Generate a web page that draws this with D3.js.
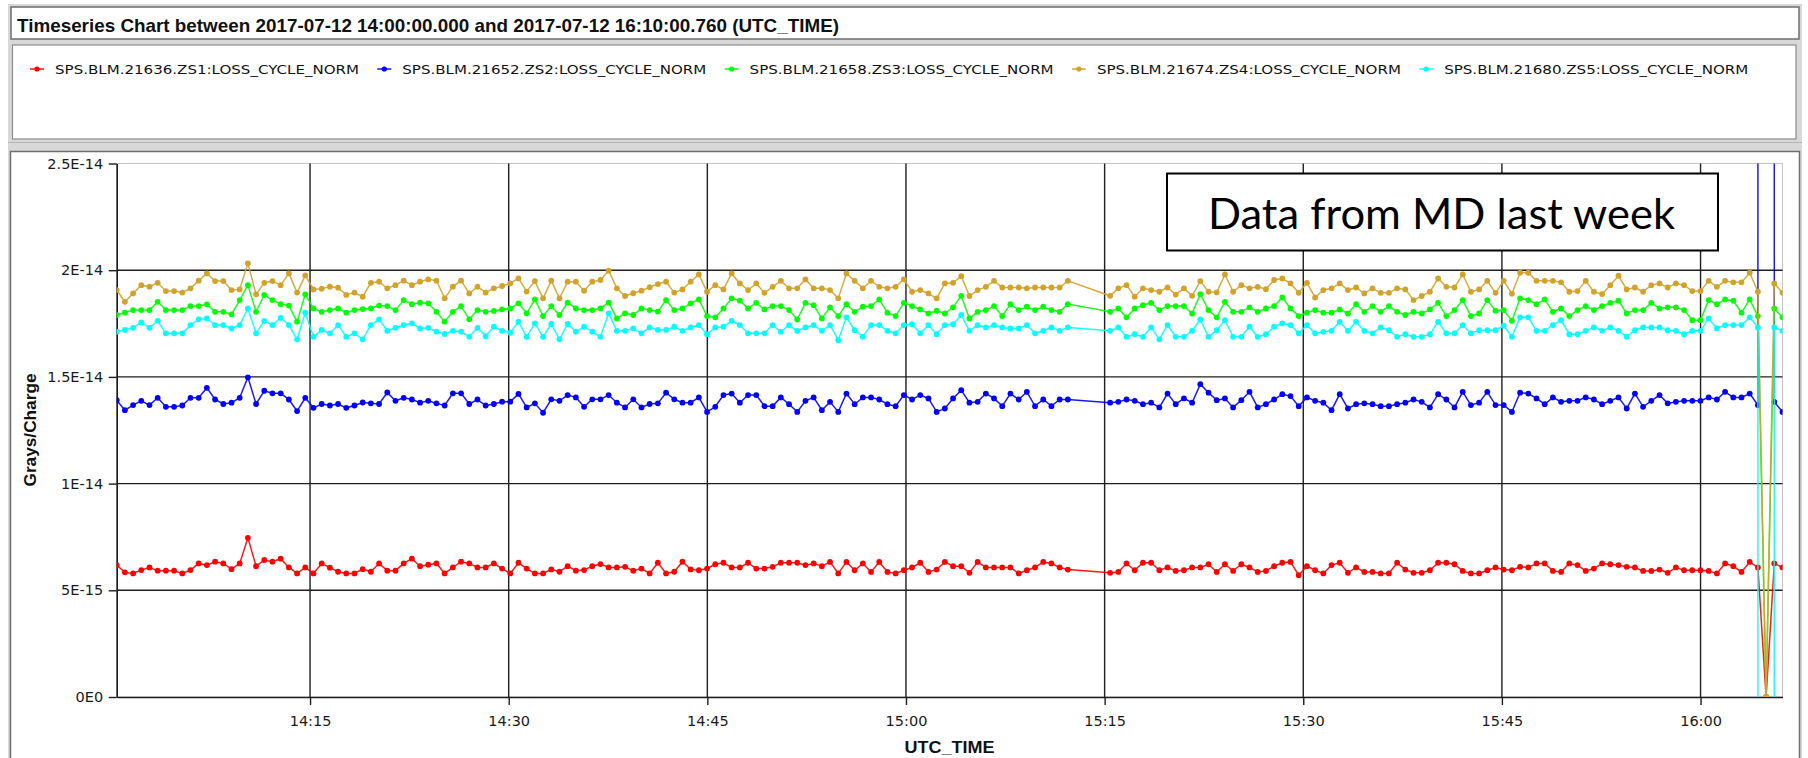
<!DOCTYPE html>
<html><head><meta charset="utf-8">
<script src="https://cdn.jsdelivr.net/npm/d3@7"></script>
<style>body{margin:0;background:#fff;} svg{display:block;}</style>
</head><body>
<svg id="chart" width="1808" height="758"></svg>
<script>
// ---------------- DATA ----------------
const titleText = "Timeseries Chart between 2017-07-12 14:00:00.000 and 2017-07-12 16:10:00.760 (UTC_TIME)";
const seriesNames = [
  "SPS.BLM.21636.ZS1:LOSS_CYCLE_NORM",
  "SPS.BLM.21652.ZS2:LOSS_CYCLE_NORM",
  "SPS.BLM.21658.ZS3:LOSS_CYCLE_NORM",
  "SPS.BLM.21674.ZS4:LOSS_CYCLE_NORM",
  "SPS.BLM.21680.ZS5:LOSS_CYCLE_NORM"
];
const seriesColors = ["#ff0000", "#0000ff", "#00ff00", "#d2a32c", "#00ffff"];
const UNIT = 1e-15; // values below are in units of 1E-15 Grays/Charge
// acquisition segments (regular SPS cycle sampling, with a gap ~15:12-15:15)
const segmentStarts = ["2017-07-12T14:00:24Z", "2017-07-12T15:15:25Z"];
const segmentCounts = [117, 83];
const SAMPLE_PERIOD_S = 37.15;
const yTickValues = [0, 5, 10, 15, 20, 25];
const yTickLabels = ["0E0", "5E-15", "1E-14", "1.5E-14", "2E-14", "2.5E-14"];
const yGridValues = [5, 10, 15, 20];
const xTickLabels = ["14:15", "14:30", "14:45", "15:00", "15:15", "15:30", "15:45", "16:00"];
const xAxisTitle = "UTC_TIME";
const yAxisTitle = "Grays/Charge";
const noteText = "Data from MD last week";

const zs1 = [
  6.18,5.84,5.79,5.95,6.07,5.92,5.92,5.92,5.79,5.95,6.26,6.18,6.34,6.26,5.99,6.26,7.46,6.13,6.42,6.34,6.48,6.07,5.79,6.07,5.79,6.26,6.06,5.87,5.79,5.79,5.99,5.87,6.26,5.92,5.92,6.26,6.48,6.13,6.20,6.26,5.79,6.07,6.34,6.26,6.07,6.07,6.26,
  6.02,5.79,6.29,6.02,5.79,5.79,5.98,5.87,6.13,5.92,5.95,6.13,6.23,6.07,6.07,6.1,5.92,6.02,5.79,6.29,5.79,5.87,6.34,5.98,
  5.94,6.02,6.22,6.29,6.07,6.07,6.29,6.02,6.02,6.1,6.29,6.29,6.29,6.18,6.26,6.13,6.33,5.79,6.33,5.94,6.26,5.86,6.33,5.86,5.79,5.94,6.07,6.29,5.86,5.97,6.33,6.13,6.13,5.82,6.33,6.07,6.07,6.07,6.07,5.79,5.94,6.07,6.33,6.26,6.07,5.97,
  5.82,5.86,6.26,5.94,6.29,6.29,5.94,6.07,5.91,5.94,6.07,6.07,6.22,5.86,6.22,5.91,6.22,6.07,5.86,5.91,6.13,6.29,6.33,5.71,6.13,5.94,5.79,6.18,6.29,5.82,6.07,5.86,5.86,5.79,5.79,6.29,5.97,5.82,5.82,5.94,6.29,6.29,6.22,5.91,5.79,5.79,5.94,6.07,5.97,5.94,6.1,
  6.07,6.26,6.26,5.91,5.86,6.26,6.18,5.91,6.02,6.26,6.22,6.18,6.1,6.07,5.91,5.91,5.97,5.82,6.07,5.94,5.94,5.94,5.91,5.79,6.26,6.13,5.86,6.33,6.07,0,6.26,6.07
];
const zs2 = [
  13.91,13.44,13.68,13.88,13.68,14.02,13.60,13.60,13.66,14.02,14.02,14.49,13.94,13.73,13.79,14.02,14.98,13.73,14.35,14.23,14.23,13.94,13.40,14.02,13.55,13.73,13.66,13.73,13.55,13.66,13.80,13.76,13.73,14.27,13.88,14.02,13.94,13.79,13.88,13.76,13.66,14.23,14.23,13.73,13.94,13.66,13.73,
  13.84,13.84,14.2,13.57,13.76,13.32,13.95,13.88,14.15,14.04,13.6,13.95,13.95,14.15,13.79,13.57,13.95,13.57,13.73,13.76,14.26,13.95,13.79,13.79,
  14.04,13.36,13.6,14.15,14.22,13.79,14.15,14.15,13.63,13.63,14.04,13.72,13.36,13.88,14.04,13.44,13.83,13.36,14.22,13.72,14.04,14.04,13.94,13.72,13.63,14.15,13.94,14.15,13.99,13.36,13.52,13.99,14.38,13.79,13.83,14.22,13.99,13.63,14.22,13.94,14.3,13.63,13.94,13.63,13.94,13.94,
  13.79,13.83,13.94,13.88,13.72,13.79,13.57,14.22,13.72,13.99,13.79,14.66,14.26,13.91,13.99,13.57,13.91,14.3,13.57,13.72,13.94,14.19,14.1,13.63,14.04,13.88,13.79,13.44,14.19,13.52,13.72,13.76,13.72,13.63,13.63,13.72,13.79,13.94,13.83,13.57,14.19,13.94,13.57,14.3,13.68,13.79,14.3,13.68,13.68,13.36,14.26,
  14.22,13.99,13.72,14.04,13.83,13.88,13.88,14.04,13.94,13.72,13.88,14.04,13.52,14.22,13.6,13.88,14.15,13.76,13.83,13.88,13.88,13.88,14.04,13.94,14.3,14.04,14.04,14.22,13.68,5000,13.83,13.36
];
const zs3 = [
  17.90,18.01,18.13,18.13,18.13,18.52,18.13,18.13,18.13,18.32,18.32,18.40,18.05,18.05,17.93,18.60,19.30,18.05,18.84,18.60,18.41,18.34,17.59,18.87,18.21,18.05,18.13,18.21,18.01,18.13,18.18,18.21,18.34,18.32,18.13,18.60,18.41,18.48,18.45,18.05,17.59,18.05,18.32,17.70,18.13,18.05,18.09,
  18.16,18.21,18.45,17.98,18.63,17.85,18.32,17.9,18.48,18.21,18.13,18.13,18.21,18.48,17.74,17.98,17.9,18.21,18.13,18.06,18.6,18.13,18.21,18.45,
  18.63,17.85,17.79,18.21,18.68,18.57,18.21,18.47,18.16,18.32,18.32,18.13,17.69,18.47,18.36,17.74,18.26,17.85,18.41,18.05,18.29,18.32,18.63,18.01,17.85,18.47,18.32,18.16,17.97,18.1,17.97,18.26,18.8,17.74,18.05,18.13,18.32,17.85,18.41,18.13,18.29,18.13,18.29,18.13,18.05,18.41,
  18.05,18.21,17.79,18.21,18.36,18.47,18.13,18.32,18.32,18.32,17.97,18.88,18.13,17.79,18.52,18.05,18.05,18.26,18.05,18.21,18.32,18.72,18.21,17.85,18.01,18.13,18.01,18.01,18.16,17.97,18.41,18.05,18.32,18.05,18.32,18.05,17.9,18.05,17.97,18.16,18.47,17.85,18.13,18.6,17.85,17.97,18.6,18.1,18.13,17.63,18.68,
  18.6,18.41,18.63,18.05,18.21,17.85,18.13,18.32,18.13,18.32,18.47,18.57,17.97,18.13,18.13,18.47,18.21,18.26,18.26,18.13,17.66,17.66,18.6,18.41,18.63,18.57,18.01,18.63,17.85,0,18.21,17.79
];
const zs4 = [
  19.07,18.52,18.91,19.30,19.23,19.41,19.02,19.02,18.95,19.15,19.51,19.85,19.49,19.49,19.07,19.10,20.32,18.87,19.41,19.49,19.30,19.85,18.95,19.76,19.10,19.13,19.23,19.18,18.84,18.95,18.76,19.41,19.46,19.15,19.30,19.51,19.30,19.46,19.57,19.51,18.68,19.23,19.51,18.91,19.23,18.95,19.15,
  19.26,19.38,19.62,19.0,19.49,18.68,19.51,18.68,19.46,19.46,19.04,19.46,19.54,19.98,19.15,18.79,18.92,19.04,19.2,19.35,19.46,18.95,19.1,19.46,
  19.8,18.99,19.3,19.1,19.85,19.38,19.07,19.38,18.94,19.22,19.5,19.15,19.15,19.57,19.15,19.15,19.07,18.68,19.85,19.5,19.15,19.5,19.22,19.15,19.22,19.57,18.99,19.07,18.91,18.68,19.38,19.41,19.72,18.79,19.07,19.22,19.5,19.19,19.19,19.19,19.15,19.19,19.19,19.19,19.19,19.5,
  18.8,19.15,19.3,18.76,19.15,19.07,18.99,19.19,18.86,19.15,18.8,19.49,18.99,18.96,19.8,18.99,19.3,19.15,19.22,19.11,19.54,19.61,19.38,18.94,19.41,18.72,19.07,19.15,19.38,19.07,19.19,18.91,19.15,18.94,18.94,19.15,19.1,18.6,18.79,18.99,19.61,19.22,19.19,19.8,18.99,19.1,19.5,18.94,19.5,18.9,19.88,
  19.88,19.5,19.5,19.5,19.43,18.99,19.02,19.5,18.99,18.88,19.3,19.74,19.1,19.19,18.99,19.3,19.38,19.19,19.38,19.3,19.02,19.02,19.5,19.22,19.5,19.43,19.43,19.88,18.99,0,19.38,18.94
];
const zs5 = [
  17.12,17.20,17.30,17.55,17.30,17.63,17.04,17.04,17.04,17.43,17.70,17.74,17.43,17.43,17.27,17.43,18.21,17.04,17.63,17.43,17.77,17.43,16.76,18.01,16.88,17.20,17.04,17.43,16.88,17.04,16.76,17.43,17.70,17.16,17.30,17.43,17.51,17.27,17.30,17.12,17.01,17.16,17.12,16.88,17.30,16.91,17.35,
  17.16,17.07,17.59,16.88,17.51,16.88,17.48,16.76,17.48,17.12,17.35,17.12,16.88,17.98,17.16,17.16,17.27,17.04,17.32,17.2,17.2,17.35,17.16,17.32,
  17.43,17.0,17.32,17.35,17.63,17.43,17.04,17.04,17.04,17.43,17.11,17.43,17.16,17.32,17.43,17.16,17.43,16.72,17.79,17.19,16.88,17.43,17.43,17.16,17.04,17.43,17.47,17.04,17.43,17.0,17.43,17.47,17.9,17.16,17.43,17.32,17.43,17.32,17.27,17.27,17.43,17.04,17.16,17.32,17.16,17.32,
  17.16,17.32,16.88,17.0,16.88,17.32,16.76,17.43,16.88,16.88,17.16,17.69,16.88,17.19,17.66,16.88,16.88,17.35,16.88,17.0,17.35,17.51,17.43,17.04,17.43,17.04,17.11,17.16,17.58,17.16,17.58,17.16,17.04,17.32,17.19,16.88,17.0,16.88,16.88,17.0,17.58,17.04,17.04,17.43,17.04,17.19,17.19,17.19,17.4,16.88,17.79,
  17.79,17.16,17.16,17.43,17.66,17.0,17.0,17.16,17.32,17.16,17.32,17.16,16.88,17.19,17.32,17.32,17.32,17.19,17.16,17.0,17.16,17.16,17.74,17.27,17.43,17.43,17.43,17.79,17.32,-5000,17.32,17.16
];
const seriesValues = [zs1, zs2, zs3, zs4, zs5];

// ---------------- LAYOUT ----------------
const W = 1808, H = 758;
const plot = {left: 116.7, right: 1782.5, top: 163.5, bottom: 697};

const svg = d3.select("#chart");

// sample times
const times = [];
segmentStarts.forEach((s, si) => {
  const t0 = new Date(s).getTime();
  for (let i = 0; i < segmentCounts[si]; i++) times.push(new Date(t0 + i * SAMPLE_PERIOD_S * 1000));
});

const x = d3.scaleUtc().domain([times[0], times[times.length - 1]]).range([plot.left, plot.right]);
const y = d3.scaleLinear().domain([0, 25]).range([plot.bottom, plot.top]);
const parseHM = d3.utcParse("%Y-%m-%d %H:%M");
const xTickDates = xTickLabels.map(l => parseHM("2017-07-12 " + l));

// ---------------- FRAME (Swing-like panels) ----------------
svg.append("rect").attr("x", 0).attr("y", 0).attr("width", W).attr("height", H).attr("fill", "#ffffff");
svg.append("rect").attr("x", 8).attr("y", 4).attr("width", 1794).attr("height", 754).attr("fill", "#d8d8d8");
// title panel
svg.append("rect").attr("x", 11).attr("y", 7).attr("width", 1788).attr("height", 32)
  .attr("fill", "#fff").attr("stroke", "#6e6e6e").attr("stroke-width", 1.5);
svg.append("text").attr("x", 17).attr("y", 31.5)
  .attr("font-family", "'Liberation Sans', Arial, sans-serif").attr("font-weight", "bold")
  .attr("font-size", 18.5).attr("fill", "#111")
  .attr("textLength", 822).attr("lengthAdjust", "spacingAndGlyphs").text(titleText);
// legend panel
svg.append("rect").attr("x", 12.5).attr("y", 45).attr("width", 1783.5).attr("height", 94)
  .attr("fill", "#fff").attr("stroke", "#8c8c8c").attr("stroke-width", 1.2);
// plot panel
svg.append("rect").attr("x", 10.5).attr("y", 151.5).attr("width", 1789).attr("height", 612)
  .attr("fill", "#fff").attr("stroke", "#6e6e6e").attr("stroke-width", 1.5);
svg.append("line").attr("x1", 8).attr("x2", 1802).attr("y1", 142.5).attr("y2", 142.5)
  .attr("stroke", "#b4b4b4").attr("stroke-width", 1);

// ---------------- LEGEND ----------------
const legend = svg.append("g");
seriesNames.forEach((name, i) => {
  const cx = 37 + i * 347.3, cy = 69;
  const g = legend.append("g");
  g.append("line").attr("x1", cx - 7).attr("x2", cx + 7).attr("y1", cy).attr("y2", cy)
    .attr("stroke", seriesColors[i]).attr("stroke-width", 1.4);
  g.append("circle").attr("cx", cx).attr("cy", cy).attr("r", 2.6).attr("fill", seriesColors[i]);
  g.append("text").attr("x", cx + 18).attr("y", cy + 4.6)
    .attr("font-family", "'DejaVu Sans', sans-serif").attr("font-size", 12.5).attr("fill", "#111")
    .attr("textLength", 304).attr("lengthAdjust", "spacingAndGlyphs").text(name);
});

// ---------------- PLOT ----------------
svg.append("rect").attr("x", plot.left).attr("y", plot.top)
  .attr("width", plot.right - plot.left).attr("height", plot.bottom - plot.top)
  .attr("fill", "#fff").attr("stroke", "#c4c4cc").attr("stroke-width", 1);

// gridlines
const grid = svg.append("g").attr("stroke", "#1e1e1e").attr("stroke-width", 1.4);
grid.selectAll("line.v").data(xTickDates).join("line").attr("class", "v")
  .attr("x1", d => x(d)).attr("x2", d => x(d)).attr("y1", plot.top).attr("y2", plot.bottom);
grid.selectAll("line.h").data(yGridValues).join("line").attr("class", "h")
  .attr("x1", plot.left).attr("x2", plot.right).attr("y1", d => y(d)).attr("y2", d => y(d));

// axes
const yAxis = d3.axisLeft(y).tickValues(yTickValues)
  .tickFormat(d => yTickLabels[yTickValues.indexOf(d)]).tickSize(8).tickSizeOuter(0).tickPadding(5.5);
const xAxis = d3.axisBottom(x).tickValues(xTickDates)
  .tickFormat((d, i) => xTickLabels[i]).tickSize(8).tickSizeOuter(0).tickPadding(10.5);

const gy = svg.append("g").attr("transform", `translate(${plot.left},0)`).call(yAxis);
const gx = svg.append("g").attr("transform", `translate(0,${plot.bottom})`).call(xAxis);
[gx, gy].forEach(g => {
  g.select(".domain").attr("stroke", "#1e1e1e").attr("stroke-width", 1.6);
  g.selectAll(".tick line").attr("stroke", "#1e1e1e").attr("stroke-width", 1.4);
  g.selectAll(".tick text").attr("font-family", "'DejaVu Sans', sans-serif")
    .attr("font-size", 14.5).attr("fill", "#1a1a1a");
});

// axis titles
svg.append("text").attr("x", (plot.left + plot.right) / 2).attr("y", 753)
  .attr("text-anchor", "middle").attr("font-family", "'Liberation Sans', Arial, sans-serif")
  .attr("font-weight", "bold").attr("font-size", 17).attr("fill", "#111")
  .attr("textLength", 90).attr("lengthAdjust", "spacingAndGlyphs").text(xAxisTitle);
svg.append("text").attr("transform", "translate(35.5,430) rotate(-90)")
  .attr("text-anchor", "middle").attr("font-family", "'Liberation Sans', Arial, sans-serif")
  .attr("font-weight", "bold").attr("font-size", 17).attr("fill", "#111")
  .attr("textLength", 113).attr("lengthAdjust", "spacingAndGlyphs").text(yAxisTitle);

// data
svg.append("clipPath").attr("id", "plotclip").append("rect")
  .attr("x", plot.left).attr("y", plot.top)
  .attr("width", plot.right - plot.left).attr("height", plot.bottom - plot.top);
const dataG = svg.append("g").attr("clip-path", "url(#plotclip)");
const line = d3.line().x(d => x(d.t)).y(d => y(d.v));
const seriesData = seriesValues.map(vals => vals.map((v, i) => ({t: times[i], v: v})));

seriesData.forEach((data, si) => {
  const g = dataG.append("g");
  g.append("path").datum(data).attr("d", line).attr("fill", "none")
    .attr("stroke", seriesColors[si]).attr("stroke-width", 1.5).attr("stroke-opacity", 0.9);
  g.selectAll("circle").data(data).join("circle")
    .attr("cx", d => x(d.t)).attr("cy", d => y(d.v)).attr("r", 2.9).attr("fill", seriesColors[si]);
});

// annotation box
const note = svg.append("g");
note.append("rect").attr("x", 1167).attr("y", 173.5).attr("width", 551).attr("height", 77)
  .attr("fill", "#fff").attr("stroke", "#000").attr("stroke-width", 2);
note.append("text").attr("x", 1208).attr("y", 229)
  .attr("font-family", "Lato, 'Open Sans', sans-serif").attr("font-size", 43).attr("fill", "#000")
  .attr("textLength", 467).attr("lengthAdjust", "spacingAndGlyphs").text(noteText);
</script>
</body></html>
